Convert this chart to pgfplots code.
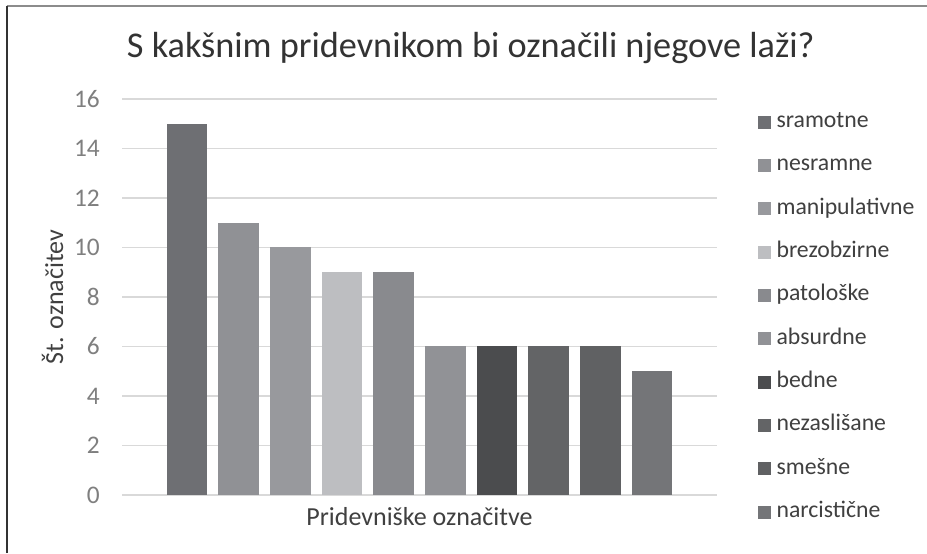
\documentclass[border=0pt]{standalone}
\usepackage{fontspec}
\setmainfont{Carlito}
\usepackage{pgfplots}
\pgfplotsset{compat=1.18}

\definecolor{c1}{HTML}{6E6F73}
\definecolor{c2}{HTML}{909195}
\definecolor{c3}{HTML}{98999D}
\definecolor{c4}{HTML}{BDBEC1}
\definecolor{c5}{HTML}{898A8E}
\definecolor{c6}{HTML}{919296}
\definecolor{c7}{HTML}{4B4C4E}
\definecolor{c8}{HTML}{636466}
\definecolor{c9}{HTML}{606163}
\definecolor{c10}{HTML}{747578}
\definecolor{gridc}{HTML}{D9D9D9}
\definecolor{tickc}{HTML}{7F7F7F}
\definecolor{textc}{HTML}{404040}

\begin{document}
\begin{tikzpicture}
% page: 927 x 553 px, 1px = 0.75pt
\fill[white] (0,0) rectangle (695.25pt,414.75pt);
\draw[line width=1.5pt, color=gray!90] (4.875pt,409.875pt) -- (695.25pt,409.875pt);
\draw[line width=1.5pt, color=black!80] (4.875pt,0pt) -- (4.875pt,409.875pt);

\node[anchor=base west, font=\fontsize{27.2}{30}\selectfont, text=black!80, inner sep=0pt]
  at (95pt,371.8pt) {S kakšnim pridevnikom bi označili njegove laži?};
\node[anchor=base, rotate=90, font=\fontsize{19.5}{22}\selectfont, text=textc, inner sep=0pt]
  at (47.25pt,192pt) {Št. označitev};
\node[anchor=base, font=\fontsize{19.5}{22}\selectfont, text=textc, inner sep=0pt]
  at (314.6pt,21pt) {Pridevniške označitve};

\begin{axis}[
    at={(91.5pt,43.5pt)}, anchor=south west,
    scale only axis,
    width=446.25pt, height=297pt,
    ybar, bar shift=0pt, bar width=0.784,
    xmin=-0.255, xmax=11.255,
    ymin=0, ymax=16,
    ytick={0,2,...,16},
    xtick=\empty,
    axis line style={draw=none},
    major tick length=0pt,
    ymajorgrids=true,
    grid style={gridc, line width=1.1pt},
    yticklabel style={font=\fontsize{19}{21}\selectfont, text=tickc, inner sep=0pt, anchor=east, xshift=-16.5pt},
    /pgf/number format/assume math mode=true,
    legend cell align=left,
    legend image code/.code={\fill[#1] (0pt,-4.875pt) rectangle (9.75pt,4.875pt);},
    legend style={at={(1.0677,0.9692)}, anchor=north west, draw=none, fill=none,
        inner sep=0pt, row sep=16.5pt, column sep=4.5pt,
        nodes={inner sep=0pt, text height=12pt, text depth=4pt, text=textc,
               font=\fontsize{17.8}{20}\selectfont}},
]
\addplot[fill=c1, draw=none] coordinates {(1,15)};
\addlegendentry{sramotne}
\addplot[fill=c2, draw=none] coordinates {(2,11)};
\addlegendentry{nesramne}
\addplot[fill=c3, draw=none] coordinates {(3,10)};
\addlegendentry{manipulativne}
\addplot[fill=c4, draw=none] coordinates {(4,9)};
\addlegendentry{brezobzirne}
\addplot[fill=c5, draw=none] coordinates {(5,9)};
\addlegendentry{patološke}
\addplot[fill=c6, draw=none] coordinates {(6,6)};
\addlegendentry{absurdne}
\addplot[fill=c7, draw=none] coordinates {(7,6)};
\addlegendentry{bedne}
\addplot[fill=c8, draw=none] coordinates {(8,6)};
\addlegendentry{nezaslišane}
\addplot[fill=c9, draw=none] coordinates {(9,6)};
\addlegendentry{smešne}
\addplot[fill=c10, draw=none] coordinates {(10,5)};
\addlegendentry{narcistične}
\end{axis}

\pgfresetboundingbox
\path (0,0) rectangle (695.25pt,414.75pt);
\end{tikzpicture}
\end{document}
